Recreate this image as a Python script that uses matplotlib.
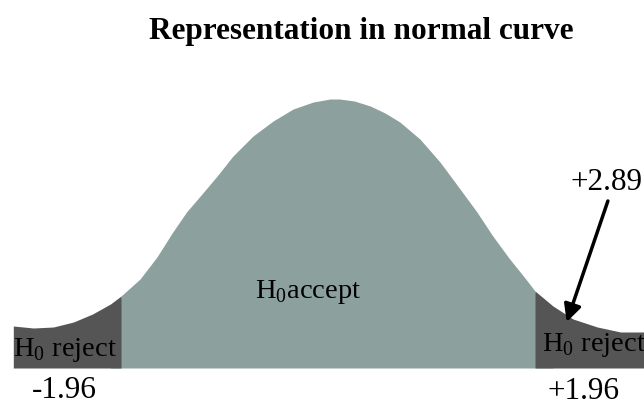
import matplotlib
matplotlib.use("Agg")
import matplotlib.pyplot as plt
import numpy as np

plt.rcParams['font.family'] = ['Liberation Serif', 'DejaVu Serif']
plt.rcParams['mathtext.fontset'] = 'custom'
plt.rcParams['mathtext.rm'] = 'Liberation Serif'

# curve: z position and height of the curve
z_vals = [-2.98, -2.79, -2.60, -2.41, -2.23, -2.06, -1.96, -1.78, -1.62, -1.47,
          -1.34, -1.21, -1.05, -0.90, -0.71, -0.52, -0.33, -0.14, 0.02, 0.11,
          0.25, 0.40, 0.54, 0.68, 0.87, 1.06, 1.25, 1.41, 1.56, 1.72,
          1.85, 1.96, 2.13, 2.32, 2.55, 2.77, 2.99]
heights = [42, 40, 41, 46, 54, 64, 72, 89, 111, 136,
           156, 172, 192, 212, 232, 247, 259, 266, 269, 269,
           267, 262, 255, 246, 229, 206, 179, 156, 132, 109,
           92, 77, 62, 49, 41, 36, 36]

z_crit = 1.96
z_obs = 2.89
title = "Representation in normal curve"

z = np.array(z_vals)
h = np.array(heights)

fig = plt.figure(figsize=(6.44, 4.06), dpi=100)
ax = fig.add_axes([0, 0, 1, 1])
ax.set_xlim(-3.106, 2.992)
ax.set_ylim(-37, 369)
ax.axis('off')

green = '#8ca09e'
dark = '#555555'

mid = (z >= -z_crit) & (z <= z_crit)
left = z <= -z_crit
right = z >= z_crit
ax.fill_between(z, 0, h, where=mid, color=green, lw=0, interpolate=True)
ax.fill_between(z, 0, h, where=left, color=dark, lw=0, interpolate=True)
ax.fill_between(z, 0, h, where=right, color=dark, lw=0, interpolate=True)

ax.text(-0.19, 71, r"H$_\mathrm{0}$accept", fontsize=20.5, ha='center', va='baseline')
ax.text(-2.98, 13, r"H$_\mathrm{0}$ reject", fontsize=20.5, ha='left', va='baseline')
# the right label runs off the edge in the original as well
ax.text(2.03, 18, r"H$_\mathrm{0}$ reject", fontsize=20.5, ha='left', va='baseline')

ax.text(-2.5, -22, "-%.2f" % z_crit, fontsize=22.5, ha='center', va='center')
ax.text(2.42, -23, "+%.2f" % z_crit, fontsize=22.5, ha='center', va='center')

ax.text(2.64, 186, "+%.2f" % z_obs, fontsize=22.5, ha='center', va='center')
ax.annotate("", xy=(2.26, 46), xytext=(2.65, 167),
            arrowprops=dict(arrowstyle='-|>', color='black', lw=2.5,
                            mutation_scale=26, shrinkA=0, shrinkB=0))

ax.text(0.31, 337, title, fontsize=22.5, fontweight='bold', ha='center', va='center')

fig.savefig('out.png', dpi=100)
